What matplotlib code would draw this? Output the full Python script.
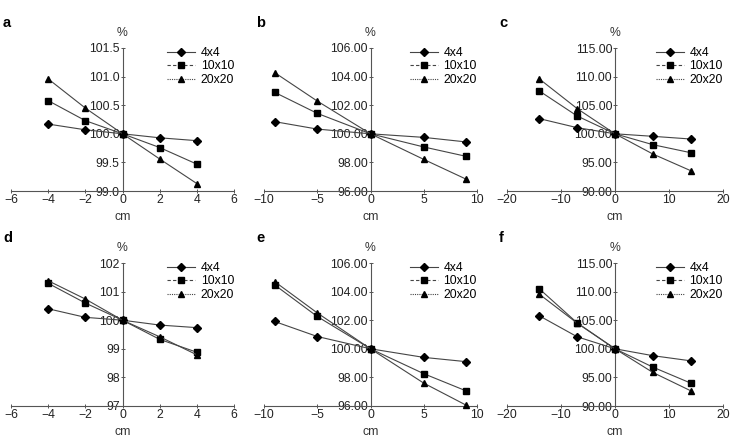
import matplotlib
matplotlib.use("Agg")
import matplotlib.pyplot as plt
from matplotlib.lines import Line2D
from matplotlib.ticker import FuncFormatter

plt.rcParams['font.family'] = ['Liberation Sans', 'DejaVu Sans']

series_names = ["4x4", "10x10", "20x20"]

x_a = [-4, -2, 0, 2, 4]
a_4 = [100.17, 100.07, 100.0, 99.93, 99.88]
a_10 = [100.58, 100.23, 100.0, 99.76, 99.47]
a_20 = [100.96, 100.45, 100.0, 99.56, 99.13]

x_b = [-9, -5, 0, 5, 9]
b_4 = [100.85, 100.33, 100.0, 99.75, 99.43]
b_10 = [102.90, 101.43, 100.0, 99.08, 98.42]
b_20 = [104.28, 102.29, 100.0, 98.21, 96.82]

x_c = [-14, -7, 0, 7, 14]
c_4 = [102.65, 101.07, 100.0, 99.56, 99.09]
c_10 = [107.48, 103.11, 100.0, 98.10, 96.70]
c_20 = [109.58, 104.40, 100.0, 96.47, 93.56]

x_d = [-4, -2, 0, 2, 4]
d_4 = [100.40, 100.10, 100.0, 99.83, 99.74]
d_10 = [101.29, 100.60, 100.0, 99.33, 98.88]
d_20 = [101.38, 100.74, 100.0, 99.42, 98.79]

x_e = [-9, -5, 0, 5, 9]
e_4 = [101.91, 100.86, 100.0, 99.40, 99.10]
e_10 = [104.47, 102.26, 100.0, 98.26, 97.05]
e_20 = [104.70, 102.51, 100.0, 97.60, 96.05]

x_f = [-14, -7, 0, 7, 14]
f_4 = [105.76, 102.10, 100.0, 98.80, 97.90]
f_10 = [110.47, 104.53, 100.0, 96.80, 94.01]
f_20 = [109.53, 104.48, 100.0, 95.87, 92.67]

panels = [
    ("a", x_a, [a_4, a_10, a_20], (-6, 6), [-6, -4, -2, 0, 2, 4, 6], (99.0, 101.5), [99.0, 99.5, 100.0, 100.5, 101.0, 101.5], "%.1f"),
    ("b", x_b, [b_4, b_10, b_20], (-10, 10), [-10, -5, 0, 5, 10], (96.0, 106.0), [96, 98, 100, 102, 104, 106], "%.2f"),
    ("c", x_c, [c_4, c_10, c_20], (-20, 20), [-20, -10, 0, 10, 20], (90.0, 115.0), [90, 95, 100, 105, 110, 115], "%.2f"),
    ("d", x_d, [d_4, d_10, d_20], (-6, 6), [-6, -4, -2, 0, 2, 4, 6], (97, 102), [97, 98, 99, 100, 101, 102], "%d"),
    ("e", x_e, [e_4, e_10, e_20], (-10, 10), [-10, -5, 0, 5, 10], (96.0, 106.0), [96, 98, 100, 102, 104, 106], "%.2f"),
    ("f", x_f, [f_4, f_10, f_20], (-20, 20), [-20, -10, 0, 10, 20], (90.0, 115.0), [90, 95, 100, 105, 110, 115], "%.2f"),
]

W, H = 735, 441
fig = plt.figure(figsize=(W / 100, H / 100), dpi=100)

lefts = [11, 264, 507]
widths = [223, 213, 216]
tops = [48, 263]
height = 143

markers = ["D", "s", "^"]
msizes = [4.0, 5, 5]
legend_styles = ["-", (0, (3, 2)), (0, (1, 1))]
line_color = "#454545"
axis_color = "#555555"
fs = 8.8


def xfmt(v, pos):
    return ("%d" % v).replace("-", "\u2212")


for i, (lab, xs, ys_list, xlim, xticks, ylim, yticks, fmt) in enumerate(panels):
    r, c = divmod(i, 3)
    l = lefts[c]
    t = tops[r]
    ax = fig.add_axes([l / W, 1 - (t + height) / H, widths[c] / W, height / H])
    for ys, m, ms in zip(ys_list, markers, msizes):
        ax.plot(xs, ys, color=line_color, lw=0.8, marker=m, ms=ms,
                mfc="black", mec="black", clip_on=False, zorder=3)
    ax.set_xlim(*xlim)
    ax.set_ylim(*ylim)
    ax.set_xticks(xticks)
    ax.set_yticks(yticks)
    ax.yaxis.set_major_formatter(FuncFormatter(lambda v, p, f=fmt: f % v))
    ax.xaxis.set_major_formatter(FuncFormatter(xfmt))
    ax.spines["left"].set_position(("data", 0))
    ax.spines["top"].set_visible(False)
    ax.spines["right"].set_visible(False)
    for s in ("left", "bottom"):
        ax.spines[s].set_color(axis_color)
        ax.spines[s].set_linewidth(0.8)
    ax.tick_params(axis="both", direction="inout", length=3, width=0.7,
                   color=axis_color, labelsize=fs, labelcolor="#222222")
    ax.tick_params(axis="x", pad=0.5)
    ax.tick_params(axis="y", pad=0.5)
    ax.set_facecolor("none")
    # labels
    ax.text(0, 1.0 + 15 / height, "%", transform=ax.get_xaxis_transform(),
            ha="center", va="center", fontsize=fs, color="#333333")
    ax.text(0.5, -(26 / height), "cm", transform=ax.transAxes, ha="center",
            va="center", fontsize=fs, color="#333333")
    fig.text((l - 8) / W, 1 - (t - 25) / H, lab, fontsize=10.5,
             fontweight="bold", ha="left", va="center")
    handles = [Line2D([0], [0], color=line_color, lw=0.8, ls=st, marker=m,
                      ms=ms, mfc="black", mec="black")
               for st, m, ms in zip(legend_styles, markers, msizes)]
    ax.legend(handles, series_names, loc="upper right", frameon=False,
              fontsize=fs, handlelength=2.3, handletextpad=0.45,
              labelspacing=0.12, borderaxespad=0.0, borderpad=0.0,
              bbox_to_anchor=(1.0, 1.0 + 1 / height))

fig.savefig("out.png", dpi=100)
